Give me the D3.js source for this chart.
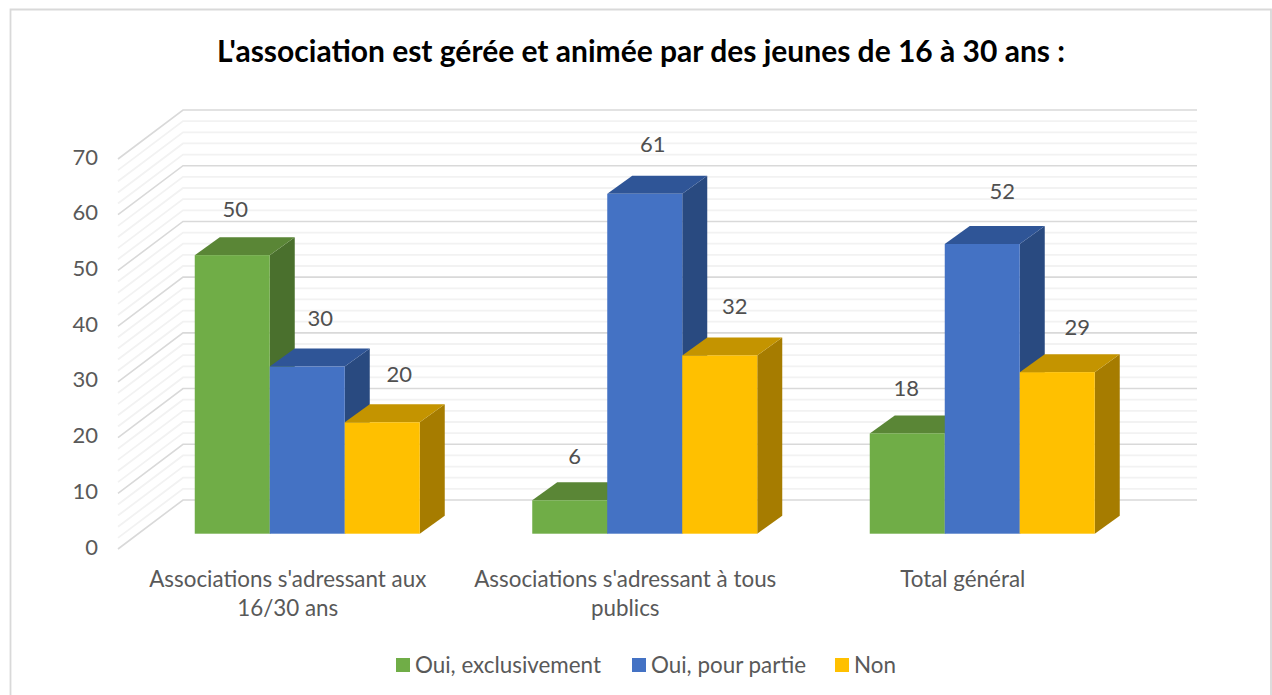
<!DOCTYPE html>
<html>
  <head>
    <meta charset="utf-8" />
    <title>L'association est gérée et animée par des jeunes</title>
    <script src="https://cdn.jsdelivr.net/npm/d3@7"></script>
    <style>
      body { margin: 0; background: #fff; }
      svg { display: block; }
      text { font-family: Lato, "Open Sans", sans-serif; }
    </style>
  </head>

  <body>
    <script>
      // Data
      const categories = [
        ["Associations s'adressant aux", "16/30 ans"],
        ["Associations s'adressant à tous", "publics"],
        ["Total général"]
      ];
      const seriesNames = ["Oui, exclusivement", "Oui, pour partie", "Non"];
      const exclusivement = [50, 6, 18];
      const pourPartie = [30, 61, 52];
      const non = [20, 32, 29];
      const allValues = [exclusivement, pourPartie, non];
      const yTicks = [0, 10, 20, 30, 40, 50, 60, 70];
      const minorTicks = d3.range(0, 71, 2);

      const colors = ["#70ad47", "#4472c4", "#ffc000"];
      const topColors = ["#5a8636", "#2f5597", "#c49400"];
      const sideColors = ["#4a702d", "#294a80", "#a67c00"];

      // hand nudges for the data labels, [dx, dy] per series and category
      const labelNudge = [
        [[3, 2], [5, 4], [-1, 3]],
        [[13, -1], [8, -2], [20, -5]],
        [[17, 0], [15, -1], [20, 3]]
      ];

      const w = 1272;
      const h = 695;

      // back wall of the 3D box, wall depth and bar depth
      const backLeft = 183;
      const backRight = 1197;
      const wallDx = -65;
      const wallDy = 49;
      const barDx = 25;
      const barDy = -18;
      const barShift = -44.5; // bar front plane relative to back wall
      const barY0 = 533.7;

      const yBack = d3.scaleLinear().domain([0, 70]).range([500, 110]);
      const yBar = d3.scaleLinear().domain([0, 70]).range([barY0, barY0 - 390]);

      const x0 = d3.scaleBand().domain(d3.range(3)).range([backLeft, backRight - 1.5]);
      const x1 = d3.scaleBand().domain(d3.range(3)).range([0, 225]);
      const groupLeft = (c) => x0(c) + barShift + (x0.bandwidth() - 225) / 2;

      const svg = d3.select("body").append("svg").attr("width", w).attr("height", h);

      // chart frame, open at the bottom
      svg
        .append("path")
        .attr("d", "M10.5,695V9.5H1271V695")
        .attr("fill", "#fff")
        .attr("stroke", "#d9d9d9")
        .attr("stroke-width", 1.8);

      svg
        .append("text")
        .text("L'association est gérée et animée par des jeunes de 16 à 30 ans :")
        .attr("x", 641)
        .attr("y", 62)
        .attr("text-anchor", "middle")
        .attr("font-size", "30px")
        .attr("font-weight", 700)
        .attr("fill", "#000");

      // minor then major gridlines on the back and left walls
      const gridData = minorTicks.filter((d) => d % 10 != 0).concat(yTicks);
      const isMajor = (d) => d % 10 == 0;
      svg
        .append("g")
        .selectAll("path")
        .data(gridData)
        .enter()
        .append("path")
        .attr("d", (d) => {
          const y = yBack(d);
          return `M${backLeft + wallDx},${y + wallDy}L${backLeft},${y}H${backRight}`;
        })
        .attr("fill", "none")
        .attr("stroke", (d) => (isMajor(d) ? "#d9d9d9" : "#f2f2f2"))
        .attr("stroke-width", (d) => (isMajor(d) ? 1.6 : 1.8));

      // y axis labels
      svg
        .append("g")
        .selectAll("text")
        .data(yTicks)
        .enter()
        .append("text")
        .text((d) => d)
        .attr("x", 98)
        .attr("y", (d) => yBack(d) + wallDy + 5.5)
        .attr("text-anchor", "end")
        .attr("font-size", "22px")
        .attr("fill", "#595959");

      // bars: each series in turn, left to right so neighbours overlap properly
      allValues.forEach((values, s) => {
        const g = svg.append("g");
        const bars = g
          .selectAll("g")
          .data(values)
          .enter()
          .append("g");

        const left = (c) => groupLeft(c) + x1(s);
        const bw = x1.bandwidth();

        bars
          .append("path")
          .attr("d", (d, c) => {
            const x = left(c) + bw;
            return `M${x},${yBar(d)}l${barDx},${barDy}V${yBar(0) + barDy}l${-barDx},${-barDy}Z`;
          })
          .attr("fill", sideColors[s]);

        bars
          .append("path")
          .attr("d", (d, c) => {
            const x = left(c);
            return `M${x},${yBar(d)}l${barDx},${barDy}h${bw}l${-barDx},${-barDy}Z`;
          })
          .attr("fill", topColors[s]);

        bars
          .append("rect")
          .attr("x", (d, c) => left(c))
          .attr("y", (d) => yBar(d))
          .attr("width", bw)
          .attr("height", (d) => yBar(0) - yBar(d))
          .attr("fill", colors[s]);
      });

      // data labels go on top of everything
      allValues.forEach((values, s) => {
        svg
          .append("g")
          .selectAll("text")
          .data(values)
          .enter()
          .append("text")
          .text((d) => d)
          .attr("x", (d, c) => groupLeft(c) + x1(s) + x1.bandwidth() / 2 + labelNudge[s][c][0])
          .attr("y", (d, c) => yBar(d) - 48 + 8 + labelNudge[s][c][1])
          .attr("text-anchor", "middle")
          .attr("font-size", "22px")
          .attr("fill", "#505050");
      });

      // category labels
      const catLabels = svg
        .append("g")
        .selectAll("text")
        .data(categories)
        .enter()
        .append("text")
        .attr("text-anchor", "middle")
        .attr("font-size", "22.4px")
        .attr("fill", "#595959");
      catLabels
        .selectAll("tspan")
        .data((d, c) => d.map((line) => ({ line: line, c: c })))
        .enter()
        .append("tspan")
        .text((d) => d.line)
        .attr("x", (d) => groupLeft(d.c) + 225 / 2 - 19.5)
        .attr("y", (d, i) => 587 + i * 29);

      // legend
      const legendX = [396, 632, 835];
      const legend = svg
        .append("g")
        .selectAll("g")
        .data(seriesNames)
        .enter()
        .append("g")
        .attr("transform", (d, i) => `translate(${legendX[i]},658)`);
      legend
        .append("rect")
        .attr("width", 14)
        .attr("height", 14)
        .attr("fill", (d, i) => colors[i]);
      legend
        .append("text")
        .text((d) => d)
        .attr("x", 19)
        .attr("y", 14.5)
        .attr("font-size", "22.4px")
        .attr("fill", "#595959");
    </script>
  </body>
</html>
